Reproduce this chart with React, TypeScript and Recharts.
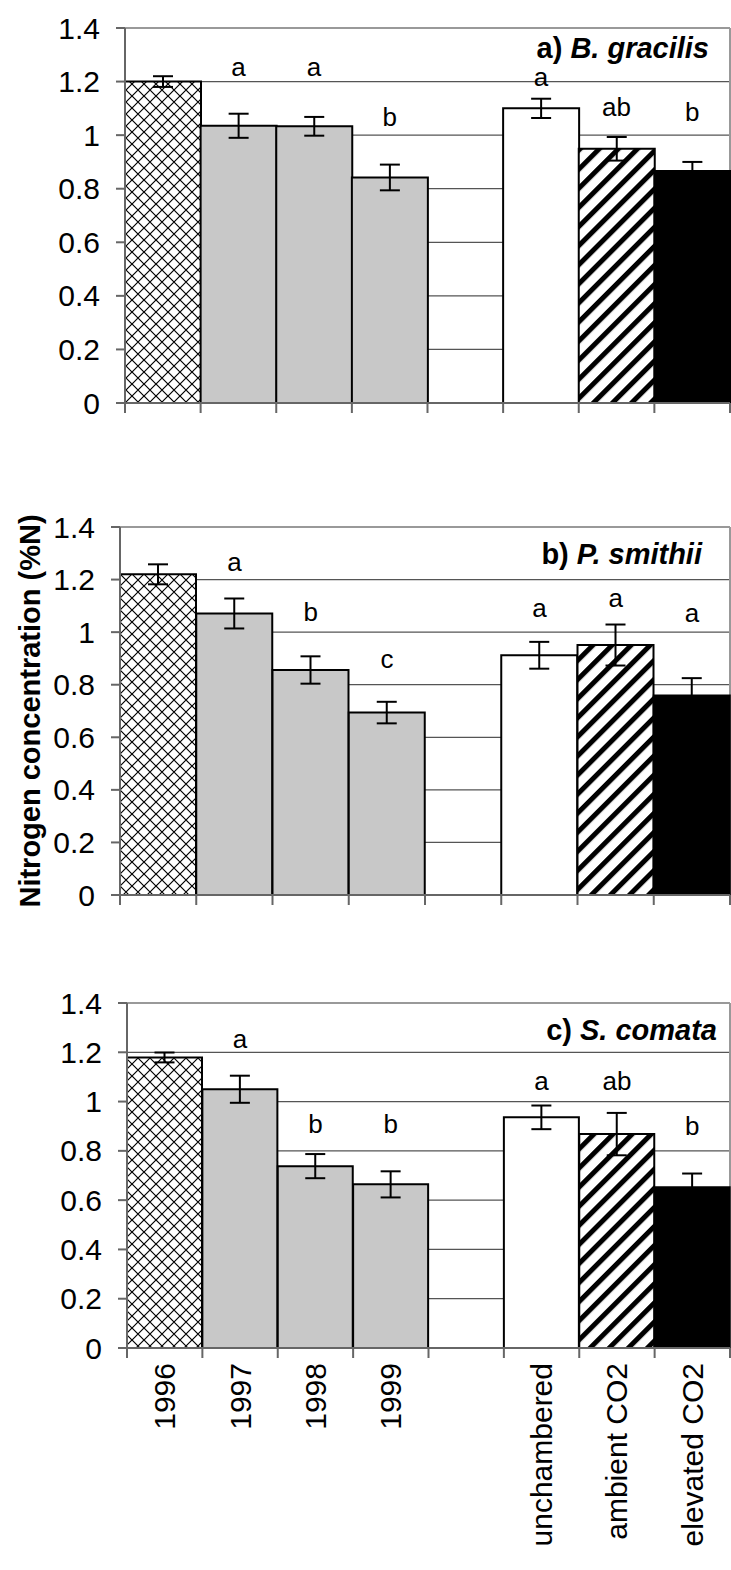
import React from 'react';
import { ComposedChart, Bar, Cell, XAxis, YAxis, CartesianGrid, ErrorBar, Scatter, ReferenceLine } from 'recharts';

// shared axes
const categories = ['1996', '1997', '1998', '1999', '', 'unchambered', 'ambient CO2', 'elevated CO2'];
const yTicks = [0, 0.2, 0.4, 0.6, 0.8, 1, 1.2, 1.4];

// a) B. gracilis
const gracilisN = [1.2, 1.035, 1.033, 0.842, null, 1.1, 0.949, 0.866];
const gracilisSE = [0.02, 0.045, 0.035, 0.048, null, 0.036, 0.044, 0.034];
const gracilisLetters = ['', 'a', 'a', 'b', '', 'a', 'ab', 'b'];
const gracilisLetterY = [null, 1.255, 1.255, 1.069, null, 1.218, 1.106, 1.088];

// b) P. smithii
const smithiiN = [1.22, 1.071, 0.856, 0.694, null, 0.912, 0.951, 0.759];
const smithiiSE = [0.038, 0.057, 0.052, 0.041, null, 0.051, 0.078, 0.066];
const smithiiLetters = ['', 'a', 'b', 'c', '', 'a', 'a', 'a'];
const smithiiLetterY = [null, 1.267, 1.077, 0.897, null, 1.09, 1.128, 1.071];

// c) S. comata
const comataN = [1.179, 1.05, 0.738, 0.664, null, 0.936, 0.868, 0.652];
const comataSE = [0.02, 0.055, 0.049, 0.053, null, 0.048, 0.086, 0.056];
const comataLetters = ['', 'a', 'b', 'b', '', 'a', 'ab', 'b'];
const comataLetterY = [null, 1.252, 0.909, 0.909, null, 1.083, 1.083, 0.899];

const FONT = '"Liberation Sans", Arial, sans-serif';
const CHART_W = 731;

const buildRows = (vals: (number | null)[], se: (number | null)[], letters: string[], letterY: (number | null)[]) =>
  categories.map((name, i) => ({ name, n: vals[i], se: se[i], letter: letters[i], letterY: letterY[i] }));

interface PanelProps {
  id: string;
  top: number;
  height: number;
  marginTop: number;
  marginBottom: number;
  axisW: number;
  xAxisH: number;
  showLabels: boolean;
  tag: string;
  species: string;
  titlePad: number;
  titleDy: number;
  rows: ReturnType<typeof buildRows>;
}

const Panel: React.FC<PanelProps> = (p) => {
  const fills = [`url(#xh-${p.id})`, '#c8c8c8', '#c8c8c8', '#c8c8c8', 'none', '#ffffff', `url(#st-${p.id})`, '#000000'];
  const catW = (CHART_W - 1 - p.axisW) / categories.length;

  const renderTick = (t: any) => {
    const { x, y, payload, index } = t;
    const half = payload && payload.offset ? payload.offset : catW / 2;
    return (
      <g>
        <line x1={x - half} x2={x - half} y1={y - 10} y2={y} stroke="#666" strokeWidth={2} />
        {index === categories.length - 1 && (
          <line x1={x + half} x2={x + half} y1={y - 10} y2={y} stroke="#666" strokeWidth={2} />
        )}
        {p.showLabels && payload.value && (
          <text
            x={x}
            y={y + 5}
            transform={`rotate(-90, ${x}, ${y + 5})`}
            textAnchor="end"
            dominantBaseline="central"
            fontSize={30}
            fontFamily={FONT}
            fill="#000"
          >
            {payload.value}
          </text>
        )}
      </g>
    );
  };

  const renderYTick = (t: any) => {
    const { x, y, payload } = t;
    return (
      <text x={x} y={y} textAnchor="end" dominantBaseline="central" fontSize={30} fontFamily={FONT} fill="#000">
        {payload.value}
      </text>
    );
  };

  const renderLetter = (s: any) => {
    if (!s.payload || !s.payload.letter) return <g />;
    return (
      <text x={s.cx} y={s.cy} textAnchor="middle" dominantBaseline="central" fontSize={26} fontFamily={FONT} fill="#000">
        {s.payload.letter}
      </text>
    );
  };

  const renderTitle = (l: any) => {
    const vb = l.viewBox || {};
    return (
      <text
        x={vb.x + vb.width - p.titlePad}
        y={vb.y + p.titleDy}
        textAnchor="end"
        dominantBaseline="central"
        fontSize={29}
        fontWeight="bold"
        fontFamily={FONT}
        fill="#000"
      >
        <tspan>{p.tag} </tspan>
        <tspan fontStyle="italic">{p.species}</tspan>
      </text>
    );
  };

  return (
    <div style={{ position: 'absolute', left: 0, top: p.top }}>
      <ComposedChart
        width={CHART_W}
        height={p.height}
        data={p.rows}
        margin={{ top: p.marginTop, right: 1, bottom: p.marginBottom, left: 0 }}
        barCategoryGap={0}
        barGap={0}
      >
        <defs>
          <pattern id={`xh-${p.id}`} patternUnits="userSpaceOnUse" width={12} height={12}>
            <rect width={12} height={12} fill="#fff" />
            <path d="M0,0 L12,12 M12,0 L0,12" stroke="#000" strokeWidth={1.2} />
          </pattern>
          <pattern id={`st-${p.id}`} patternUnits="userSpaceOnUse" width={13.5} height={13.5} patternTransform="rotate(45)">
            <rect width={13.5} height={13.5} fill="#fff" />
            <rect width={5} height={13.5} fill="#000" />
          </pattern>
        </defs>
        <CartesianGrid horizontal vertical={false} stroke="#555" strokeWidth={1.3} />
        <CartesianGrid
          horizontal={false}
          vertical
          stroke="#999"
          strokeWidth={2}
          verticalCoordinatesGenerator={({ offset }: any) => [offset.left + offset.width]}
        />
        <XAxis
          dataKey="name"
          type="category"
          interval={0}
          height={p.xAxisH}
          tickSize={10}
          tickMargin={0}
          tickLine={false}
          axisLine={{ stroke: '#666', strokeWidth: 2 }}
          tick={renderTick}
        />
        <YAxis
          type="number"
          domain={[0, 1.4]}
          ticks={yTicks}
          interval={0}
          width={p.axisW}
          tickSize={9}
          tickMargin={16}
          axisLine={{ stroke: '#666', strokeWidth: 2 }}
          tickLine={{ stroke: '#666', strokeWidth: 2 }}
          tick={renderYTick}
        />
        <Bar dataKey="n" stroke="#000" strokeWidth={2} isAnimationActive={false}>
          {p.rows.map((r, i) => (
            <Cell key={r.name + i} fill={fills[i]} />
          ))}
          <ErrorBar dataKey="se" width={10} stroke="#000" strokeWidth={2} direction="y" isAnimationActive={false} />
        </Bar>
        <Scatter dataKey="letterY" shape={renderLetter} isAnimationActive={false} />
        <ReferenceLine y={1.4} stroke="#999" strokeWidth={2} label={renderTitle} />
      </ComposedChart>
    </div>
  );
};

export default function App() {
  return (
    <div style={{ position: 'absolute', left: 0, top: 0, width: 731, height: 1570, background: '#fff', fontFamily: FONT }}>
      <Panel
        id="a"
        top={0}
        height={420}
        marginTop={28}
        marginBottom={5}
        axisW={125}
        xAxisH={12}
        showLabels={false}
        tag="a)"
        species="B. gracilis"
        titlePad={21}
        titleDy={20}
        rows={buildRows(gracilisN, gracilisSE, gracilisLetters, gracilisLetterY)}
      />
      <Panel
        id="b"
        top={490}
        height={420}
        marginTop={37}
        marginBottom={3}
        axisW={120}
        xAxisH={12}
        showLabels={false}
        tag="b)"
        species="P. smithii"
        titlePad={28}
        titleDy={27}
        rows={buildRows(smithiiN, smithiiSE, smithiiLetters, smithiiLetterY)}
      />
      <Panel
        id="c"
        top={980}
        height={590}
        marginTop={23}
        marginBottom={0}
        axisW={127}
        xAxisH={222}
        showLabels
        tag="c)"
        species="S. comata"
        titlePad={13}
        titleDy={27}
        rows={buildRows(comataN, comataSE, comataLetters, comataLetterY)}
      />
      <svg style={{ position: 'absolute', left: 0, top: 0 }} width={60} height={1570}>
        <text
          x={30}
          y={711}
          transform="rotate(-90, 30, 711)"
          textAnchor="middle"
          dominantBaseline="central"
          fontSize={29}
          fontWeight="bold"
          fontFamily={FONT}
          fill="#000"
        >
          Nitrogen concentration (%N)
        </text>
      </svg>
    </div>
  );
}
